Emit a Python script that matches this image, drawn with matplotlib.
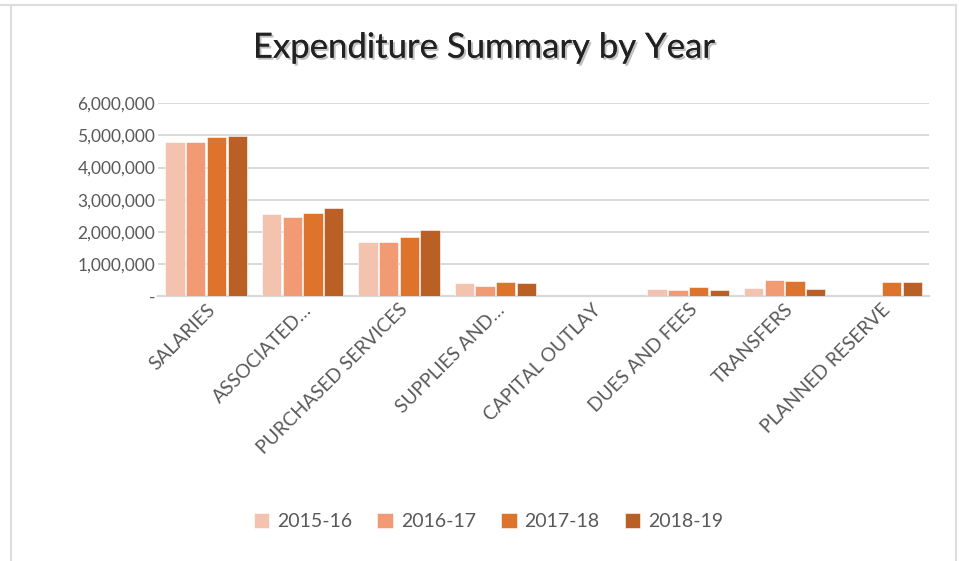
import matplotlib.pyplot as plt
import matplotlib.patheffects as pe
from matplotlib.lines import Line2D
from matplotlib.ticker import FuncFormatter
import numpy as np

# categorias e valores
categorias = ["SALARIES", "ASSOCIATED…", "PURCHASED SERVICES", "SUPPLIES AND…",
              "CAPITAL OUTLAY", "DUES AND FEES", "TRANSFERS", "PLANNED RESERVE"]
anos = ["2015-16", "2016-17", "2017-18", "2018-19"]
v2015 = [4790000, 2540000, 1680000, 390000, 0, 220000, 240000, 0]
v2016 = [4790000, 2450000, 1690000, 310000, 0, 200000, 490000, 0]
v2017 = [4960000, 2580000, 1830000, 430000, 0, 280000, 460000, 420000]
v2018 = [4980000, 2730000, 2050000, 400000, 0, 190000, 230000, 420000]
cores = ["#F4C3B0", "#F19A74", "#DE732C", "#BA5F26"]

plt.rcParams['font.family'] = ['Lato', 'DejaVu Sans']

fig = plt.figure(figsize=(9.69, 5.61), dpi=100)
ax = fig.add_axes([0.163, 0.4724, 0.796, 0.3435])

x = np.arange(len(categorias))
largura = 0.2
series = [v2015, v2016, v2017, v2018]
for i, (vals, cor, ano) in enumerate(zip(series, cores, anos)):
    ax.bar(x + (i - 1.5) * (largura + 0.015), vals, largura, color=cor,
           edgecolor="white", linewidth=0.4, label=ano, zorder=3)

ax.set_xlim(-0.5, len(categorias) - 0.5)
ax.set_ylim(0, 6000000)
ax.set_yticks(np.arange(0, 6000001, 1000000))
ax.yaxis.set_major_formatter(FuncFormatter(lambda v, p: "-" if v == 0 else f"{int(v):,}"))
ax.grid(axis="y", color="#D9D9D9", linewidth=1.4, zorder=0)
for s in ["top", "right", "left"]:
    ax.spines[s].set_visible(False)
ax.spines["bottom"].set_color("#D9D9D9")
ax.spines["bottom"].set_linewidth(1.6)
ax.tick_params(axis="both", length=0, colors="#595959")
ax.tick_params(axis="y", pad=2, labelsize=12.5)

ax.set_xticks(x)
ax.set_xticklabels(categorias, rotation=45, ha="right", va="top",
                   rotation_mode="anchor", color="#595959", fontsize=13.8)

fig.text(0.5, 0.915, "Expenditure Summary by Year", ha="center", va="center",
         fontsize=25, color="#222222",
         path_effects=[pe.withSimplePatchShadow(offset=(1.5, -1.5), shadow_rgbFace="#999999", alpha=0.6), pe.Normal()])

leg = fig.legend(loc="center", bbox_to_anchor=(0.504, 0.07), ncol=4, frameon=False,
                 fontsize=14, handlelength=0.8, handleheight=0.8, columnspacing=1.3,
                 handletextpad=0.4)
for t in leg.get_texts():
    t.set_color("#595959")

# borda do gráfico
borda = "#DDDDDD"
fig.add_artist(Line2D([11 / 969, 11 / 969], [0, 1 - 5 / 561], transform=fig.transFigure, color=borda, lw=1.5))
fig.add_artist(Line2D([956 / 969, 956 / 969], [0, 1 - 5 / 561], transform=fig.transFigure, color=borda, lw=1.5))
fig.add_artist(Line2D([0, 956 / 969], [1 - 5 / 561, 1 - 5 / 561], transform=fig.transFigure, color=borda, lw=1.5))

fig.savefig("out.png", dpi=100)
